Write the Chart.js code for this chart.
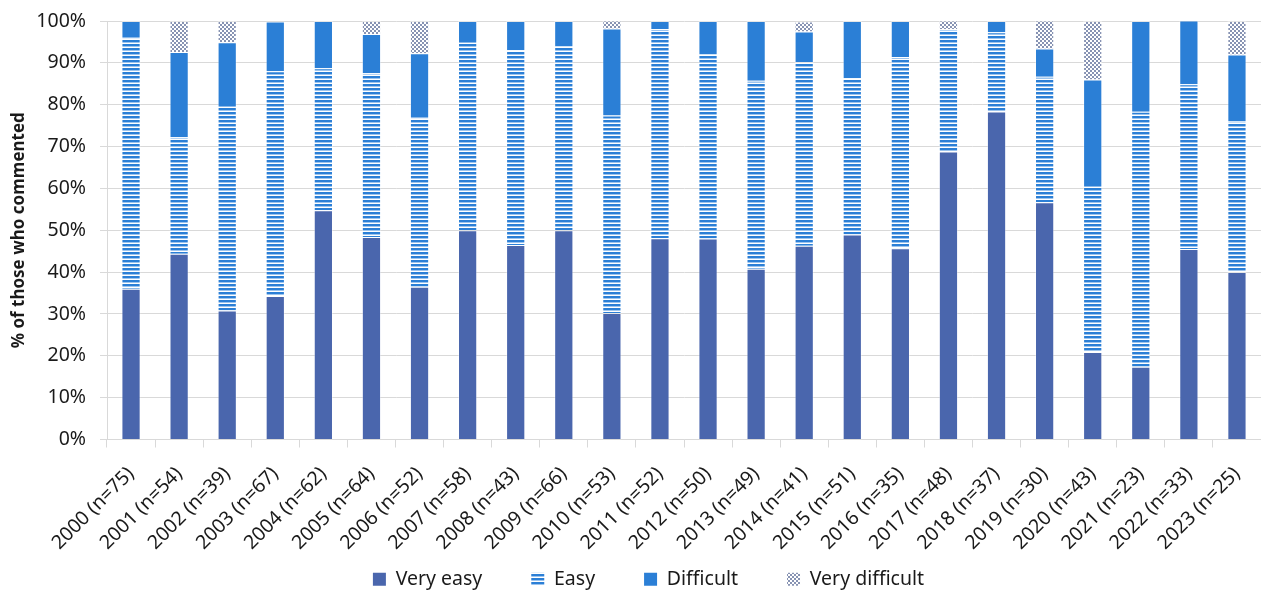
<!DOCTYPE html>
<html>
<head>
<meta charset="utf-8">
<script src="https://cdn.jsdelivr.net/npm/chart.js@4.4.1/dist/chart.umd.min.js"></script>
<style>
  html, body { margin: 0; padding: 0; background: #ffffff; }
  #wrap { position: relative; width: 1261px; height: 597px; }
</style>
</head>
<body>
<div id="wrap"><canvas id="chart"></canvas></div>
<script>
// Survey years with number of respondents who commented
const categories = [
  "2000 (n=75)", "2001 (n=54)", "2002 (n=39)", "2003 (n=67)", "2004 (n=62)",
  "2005 (n=64)", "2006 (n=52)", "2007 (n=58)", "2008 (n=43)", "2009 (n=66)",
  "2010 (n=53)", "2011 (n=52)", "2012 (n=50)", "2013 (n=49)", "2014 (n=41)",
  "2015 (n=51)", "2016 (n=35)", "2017 (n=48)", "2018 (n=37)", "2019 (n=30)",
  "2020 (n=43)", "2021 (n=23)", "2022 (n=33)", "2023 (n=25)"
];

// Share of responses (%) per difficulty rating
const veryEasy = [36.0, 44.4, 30.8, 34.3, 54.8, 48.4, 36.5, 50.0, 46.5, 50.0, 30.2, 48.1,
                  48.0, 40.8, 46.3, 49.0, 45.7, 68.8, 78.4, 56.7, 20.9, 17.4, 45.5, 40.0];
const easy = [60.0, 27.8, 48.7, 53.7, 33.9, 39.1, 40.4, 44.8, 46.5, 43.9, 47.2, 50.0,
              44.0, 44.9, 43.9, 37.3, 45.7, 29.2, 18.9, 30.0, 39.5, 60.9, 39.4, 36.0];
const difficult = [4.0, 20.4, 15.4, 11.9, 11.3, 9.4, 15.4, 5.2, 7.0, 6.1, 20.8, 1.9,
                   8.0, 14.3, 7.3, 13.7, 8.6, 0.0, 2.7, 6.7, 25.6, 21.7, 15.2, 16.0];
const veryDifficult = [0.0, 7.4, 5.1, 0.0, 0.0, 3.1, 7.7, 0.0, 0.0, 0.0, 1.9, 0.0,
                       0.0, 0.0, 2.4, 0.0, 0.0, 2.1, 0.0, 6.7, 14.0, 0.0, 0.0, 8.0];

const yTicks = [0, 10, 20, 30, 40, 50, 60, 70, 80, 90, 100];

const canvas = document.getElementById('chart');
const ctx = canvas.getContext('2d');

// Horizontal stripe fill
function stripePattern() {
  const c = document.createElement('canvas');
  c.width = 4; c.height = 4;
  const g = c.getContext('2d');
  g.fillStyle = '#ffffff'; g.fillRect(0, 0, 4, 4);
  g.fillStyle = '#2b7fd6'; g.fillRect(0, 0, 4, 2);
  g.fillStyle = '#9cc4ee'; g.fillRect(0, 2, 4, 1);
  return ctx.createPattern(c, 'repeat');
}

// Small checkerboard fill
function checkerPattern() {
  const c = document.createElement('canvas');
  c.width = 4; c.height = 4;
  const g = c.getContext('2d');
  g.fillStyle = '#ffffff'; g.fillRect(0, 0, 4, 4);
  g.fillStyle = '#8793b3';
  g.fillRect(0, 0, 2, 2);
  g.fillRect(2, 2, 2, 2);
  return ctx.createPattern(c, 'repeat');
}

const FONT = "'Noto Sans', 'Open Sans', sans-serif";
const TEXT = '#1a1a1a';
const LEGEND_SHIFT_X = 18;
const LEGEND_SHIFT_Y = 2;
const Y_AXIS_WIDTH = 107;
const X_AXIS_HEIGHT = 118;
const barOpts = { barPercentage: 0.4, categoryPercentage: 1.0, borderWidth: 1, borderColor: 'rgba(255,255,255,0.35)' };

const chart = new Chart(canvas, {
  type: 'bar',
  data: {
    labels: categories,
    datasets: [
      Object.assign({ label: 'Very easy', data: veryEasy, backgroundColor: '#4a66ad' }, barOpts),
      Object.assign({ label: 'Easy', data: easy, backgroundColor: stripePattern() }, barOpts),
      Object.assign({ label: 'Difficult', data: difficult, backgroundColor: '#2b7fd6' }, barOpts),
      Object.assign({ label: 'Very difficult', data: veryDifficult, backgroundColor: checkerPattern() }, barOpts)
    ]
  },
  options: {
    responsive: true,
    maintainAspectRatio: false,
    animation: false,
    layout: { padding: { top: 21, right: 0, left: 0, bottom: 0 } },
    plugins: {
      tooltip: { enabled: false },
      legend: {
        position: 'bottom',
        labels: {
          boxWidth: 13,
          boxHeight: 13,
          padding: 10,
          color: TEXT,
          font: { family: FONT, size: 19.5 },
          // wider spacing between entries, last entry without trailing gap
          generateLabels: (chart) => {
            const items = Chart.defaults.plugins.legend.labels.generateLabels(chart);
            items.forEach((it, i) => {
              it.lineWidth = 0;
              if (i < items.length - 1) it.text = it.text + '\u2003\u2003';
            });
            return items;
          }
        }
      }
    },
    scales: {
      x: {
        stacked: true,
        afterFit: (s) => { s.height = X_AXIS_HEIGHT; s.paddingLeft = 0; s.paddingRight = 0; },
        grid: { display: true, drawOnChartArea: false, drawTicks: true, tickLength: 8, color: '#d9d9d9', offset: true },
        border: { display: true, color: '#d9d9d9', width: 1 },
        ticks: {
          color: TEXT,
          font: { family: FONT, size: 19.5 },
          maxRotation: 45,
          minRotation: 45,
          autoSkip: false,
          padding: 15
        }
      },
      y: {
        stacked: true,
        min: 0,
        max: 100,
        afterFit: (s) => { s.width = Y_AXIS_WIDTH; s.paddingTop = 0; s.paddingBottom = 0; },
        afterBuildTicks: (axis) => { axis.ticks = yTicks.map(v => ({ value: v })); },
        grid: { color: '#d9d9d9', drawTicks: true, tickLength: 7 },
        border: { display: true, color: '#d9d9d9', width: 1 },
        ticks: {
          color: TEXT,
          padding: 14,
          font: { family: FONT, size: 19.5 },
          callback: (v) => v + '%'
        },
        title: {
          display: true,
          text: '% of those who commented',
          color: TEXT,
          padding: { top: 9, bottom: 0 },
          font: { family: FONT, size: 17, weight: 'bold' }
        }
      }
    }
  }
});

// nudge the legend row to sit under the plot centre
const legendBox = chart.legend;
const legendDraw = legendBox.draw.bind(legendBox);
legendBox.draw = function () {
  const c = this.ctx;
  c.save();
  c.translate(LEGEND_SHIFT_X, LEGEND_SHIFT_Y);
  legendDraw();
  c.restore();
};
chart.draw();
</script>
</body>
</html>
